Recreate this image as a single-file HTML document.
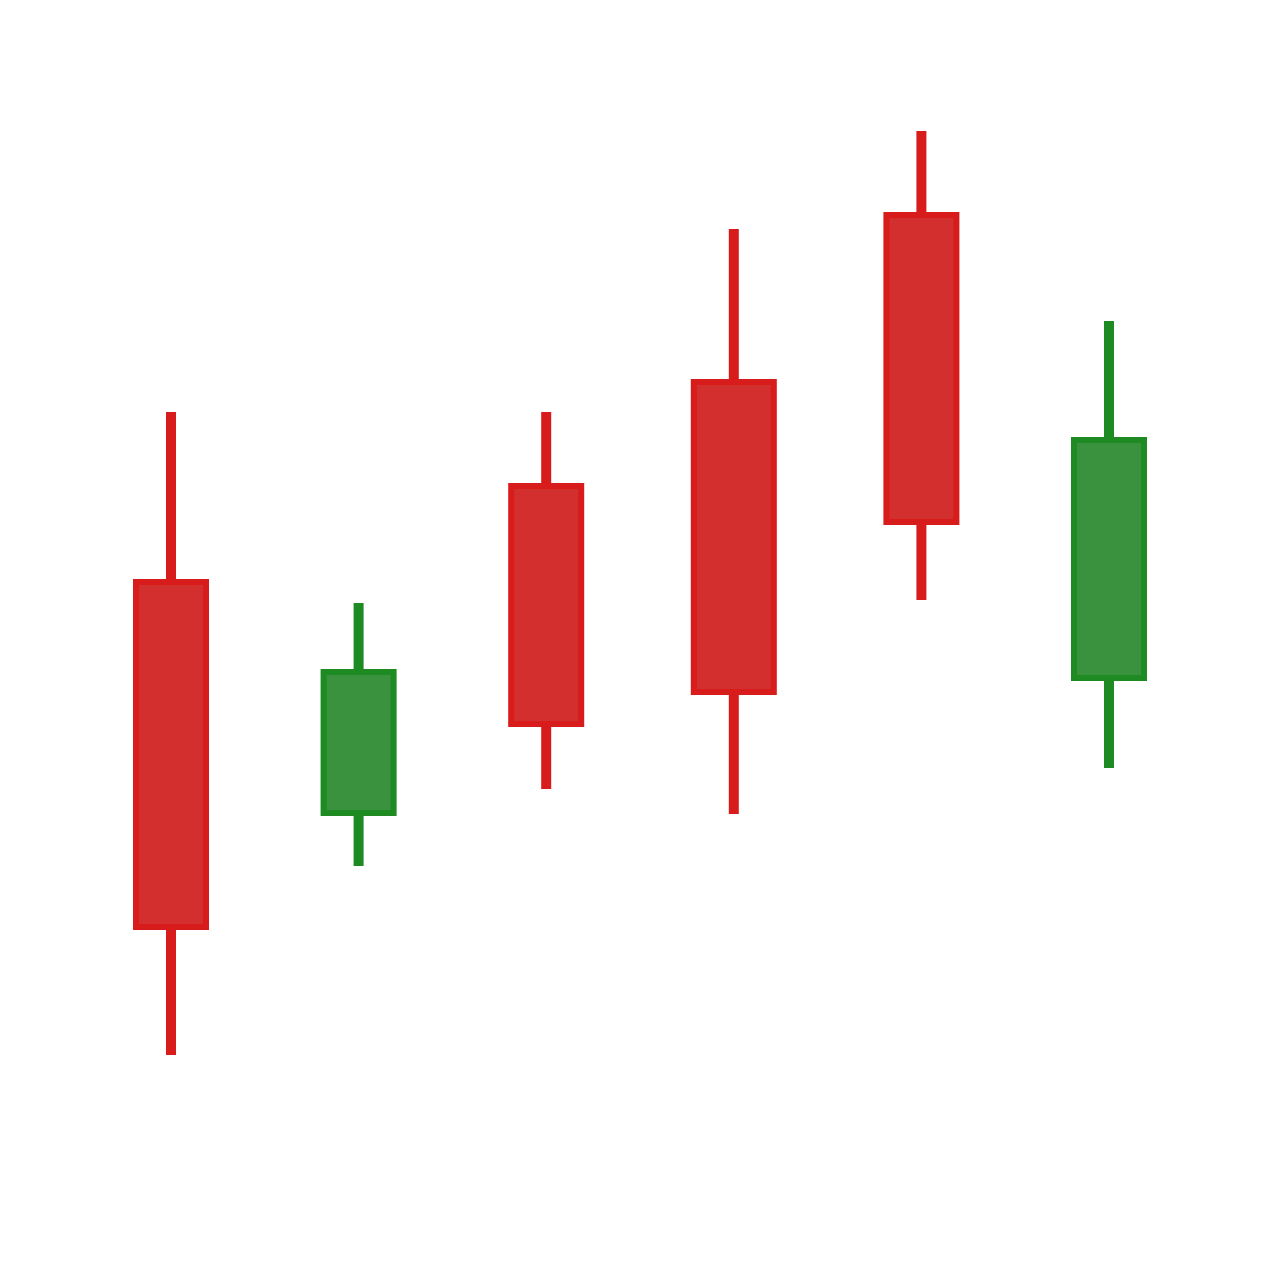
<!DOCTYPE html>
<html>
<head>
<meta charset="utf-8">
<style>
  html, body { margin: 0; padding: 0; background: #ffffff; }
  svg { display: block; }
</style>
</head>
<body>
<svg id="chart" width="1280" height="1280" viewBox="0 0 1280 1280" xmlns="http://www.w3.org/2000/svg"></svg>
<script>
const categories = ["c1", "c2", "c3", "c4", "c5", "c6"];
const openVals  = [69.8, 46.7, 79.4, 89.8, 106.5, 60.2];
const closeVals = [35.3, 60.8, 55.6, 58.8, 75.8, 84.0];
const highVals  = [86.8, 67.7, 86.8, 105.1, 114.9, 95.9];
const lowVals   = [22.5, 41.4, 49.1, 46.6, 68.0, 51.2];

const svg = document.getElementById('chart');
const NS = 'http://www.w3.org/2000/svg';
function yScale(v) { return 1280 - v * 10; }
function xScale(i) { return 171 + i * 187.6; }
function bodyWidth(i) { return i === 3 ? 80 : 70; }

categories.forEach((c, i) => {
  const up = closeVals[i] > openVals[i];
  const stroke = up ? '#1e8a22' : '#d81b1b';
  const fill = up ? '#3a913e' : '#d32f2f';
  const cx = xScale(i);
  const bodyW = bodyWidth(i);
  const g = document.createElementNS(NS, 'g');
  
  
  const wick = document.createElementNS(NS, 'line');
  
  
  wick.setAttribute('x1', cx); wick.setAttribute('x2', cx);
  wick.setAttribute('y1', yScale(highVals[i]));
  wick.setAttribute('y2', yScale(lowVals[i]));
  wick.setAttribute('stroke', stroke);
  wick.setAttribute('stroke-width', 10);
  g.appendChild(wick);
  const top = yScale(Math.max(openVals[i], closeVals[i]));
  const bot = yScale(Math.min(openVals[i], closeVals[i]));
  const body = document.createElementNS(NS, 'rect');
  
  
  body.setAttribute('x', cx - bodyW / 2);
  body.setAttribute('y', top);
  body.setAttribute('width', bodyW);
  body.setAttribute('height', bot - top);
  body.setAttribute('fill', fill);
  body.setAttribute('stroke', stroke);
  body.setAttribute('stroke-width', 6);
  g.appendChild(body);
  svg.appendChild(g);
});
</script>
</body>
</html>
